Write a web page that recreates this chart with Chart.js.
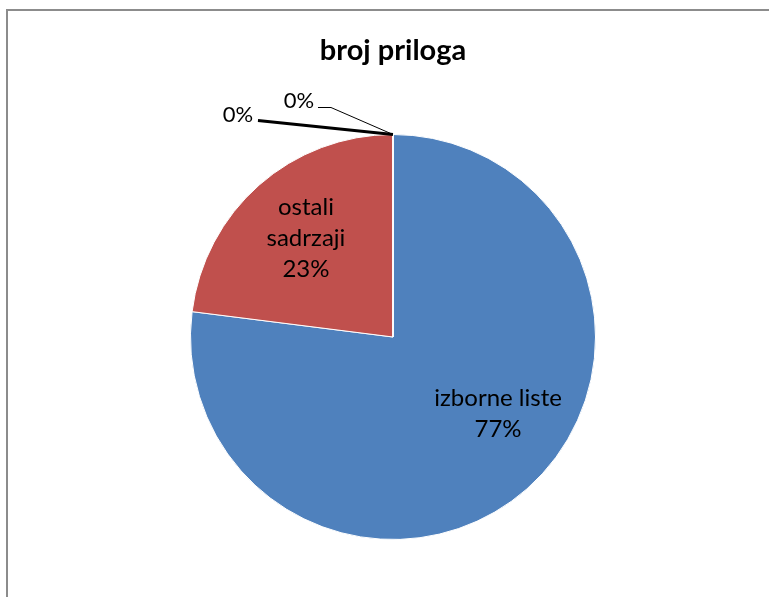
<!DOCTYPE html>
<html>
<head>
<meta charset="utf-8">
<title>broj priloga</title>
<script src="https://cdn.jsdelivr.net/npm/chart.js@4/dist/chart.umd.min.js"></script>
<style>
  html, body { margin: 0; padding: 0; background: #fff; }
  .frame {
    position: absolute;
    left: 6px; top: 9px;
    width: 780px; height: 600px;
    border-left: 2px solid #8c8c8c;
    border-top: 2px solid #8c8c8c;
  }
  #chart { position: absolute; left: 0; top: 0; }
</style>
</head>
<body>
<div class="frame"></div>
<canvas id="chart" width="769" height="597"></canvas>
<script>
// chart data
const categories = ['izborne liste', 'ostali sadrzaji', 'ostalo', 'nepoznato'];
const values = [77, 23, 0.001, 0.001];
const percentLabels = ['77%', '23%', '0%', '0%'];
const sliceColors = ['#4f81bd', '#c0504d', '#9bbb59', '#8064a2'];

const labelFont = '24px Lato, "Open Sans", sans-serif';
const smallFont = '22px Lato, "Open Sans", sans-serif';

// labels on the slices, and leader lines for the tiny ones
const sliceLabels = {
  id: 'sliceLabels',
  afterDatasetsDraw(chart) {
    const ctx = chart.ctx;
    const meta = chart.getDatasetMeta(0);
    ctx.save();
    ctx.fillStyle = '#000';
    ctx.textAlign = 'center';
    ctx.textBaseline = 'middle';

    meta.data.forEach(function(arc, i) {
      const mid = (arc.startAngle + arc.endAngle) / 2;
      const r = arc.outerRadius;

      if (values[i] >= 1) {
        ctx.font = labelFont;
        let x = arc.x + Math.cos(mid) * r * 0.65;
        let y = arc.y + Math.sin(mid) * r * 0.65;
        // big slice label sits a bit off its middle in the original
        if (i === 0) { x += 18; y -= 22; }
        const lines = categories[i].split(' ');
        const text = i === 0 ? [categories[i], percentLabels[i]] : lines.concat(percentLabels[i]);
        const lh = 31;
        const top = y - (text.length - 1) * lh / 2;
        text.forEach(function(t, k) { ctx.fillText(t, x, top + k * lh); });
        return;
      }

      // tiny slices: leader line from the rim to a label outside
      ctx.font = smallFont;
      const ax = arc.x + Math.cos(mid) * r;
      const ay = arc.y + Math.sin(mid) * r;
      ctx.strokeStyle = '#000';
      ctx.beginPath();
      if (i === 2) {
        ctx.lineWidth = 3;
        ctx.moveTo(ax, ay);
        ctx.lineTo(ax - 135, ay - 14);
        ctx.stroke();
        ctx.fillText(percentLabels[i], ax - 155, ay - 20);
      } else {
        ctx.lineWidth = 1;
        ctx.moveTo(ax, ay);
        ctx.lineTo(ax - 62, ay - 27);
        ctx.lineTo(ax - 75, ay - 27);
        ctx.stroke();
        ctx.fillText(percentLabels[i], ax - 94, ay - 34);
      }
    });
    ctx.restore();
  }
};

const ctx = document.getElementById('chart').getContext('2d');
const chart = new Chart(ctx, {
  type: 'pie',
  data: {
    labels: categories,
    datasets: [{
      data: values,
      backgroundColor: sliceColors,
      borderColor: '#ffffff',
      borderWidth: 1
    }]
  },
  options: {
    responsive: false,
    animation: false,
    layout: {
      padding: { left: 17, right: 0, top: 0, bottom: 57 }
    },
    plugins: {
      legend: { display: false },
      tooltip: { enabled: false },
      title: {
        display: true,
        text: 'broj priloga',
        color: '#000',
        font: { family: 'Lato, "Open Sans", sans-serif', size: 29, weight: 'bold', lineHeight: 1.2 },
        padding: { top: 33, bottom: 66.2 }
      }
    }
  },
  plugins: [sliceLabels]
});
</script>
</body>
</html>
